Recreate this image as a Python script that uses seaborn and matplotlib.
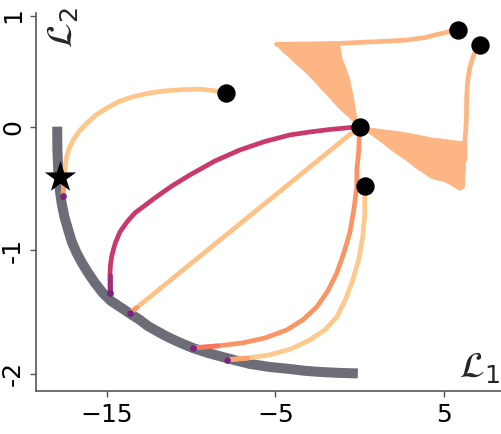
import numpy as np
import pandas as pd
import matplotlib
matplotlib.use("Agg")
import matplotlib.pyplot as plt
import seaborn as sns

# ---------------- data ----------------
front_x = [-17.95, -17.94, -17.89, -17.82, -17.69, -17.52, -17.30, -17.08, -16.80, -16.48,
           -16.11, -15.71, -15.24, -14.76, -14.13, -13.64, -13.04, -12.57, -12.05, -11.56,
           -11.08, -10.49, -9.90, -9.01, -8.12, -7.34, -6.51, -5.33, -4.14, -3.25,
           -2.36, -1.17, -0.10]
front_y = [0.0, -0.189, -0.351, -0.488, -0.618, -0.731, -0.836, -0.934, -1.022, -1.103,
           -1.185, -1.265, -1.347, -1.411, -1.468, -1.513, -1.565, -1.614, -1.654, -1.691,
           -1.723, -1.759, -1.792, -1.832, -1.865, -1.893, -1.921, -1.946, -1.962, -1.977,
           -1.986, -1.994, -1.998]

# trajectory starting at (-7.94, 0.275)
t1_x = [-7.94, -8.71, -9.48, -10.49, -11.46, -12.45, -13.44, -14.29, -15.02, -15.65,
        -16.20, -16.66, -17.00, -17.23, -17.39, -17.46, -17.49, -17.55, -17.61]
t1_y = [0.275, 0.293, 0.303, 0.300, 0.291, 0.273, 0.243, 0.204, 0.149, 0.095,
        0.028, -0.039, -0.108, -0.172, -0.243, -0.310, -0.375, -0.472, -0.561]

# magenta trajectory from the centre point
t2_x = [0.0, -1.77, -2.95, -4.14, -5.62, -7.11, -8.59, -10.07, -11.14, -12.15,
        -12.74, -13.34, -13.81, -14.23, -14.50, -14.70, -14.79, -14.82, -14.82]
t2_y = [0.0, -0.023, -0.043, -0.067, -0.120, -0.189, -0.278, -0.391, -0.480, -0.577,
        -0.638, -0.699, -0.772, -0.853, -0.942, -1.039, -1.120, -1.201, -1.347]

# straight trajectory from the centre point
t3_x = [0.0, -13.22, -13.63]
t3_y = [0.0, -1.464, -1.508]

# salmon trajectory from the centre point
t4_x = [0.0, -0.04, -0.16, -0.16, -0.34, -0.58, -0.93, -1.35, -1.88, -2.54,
        -3.37, -4.32, -5.62, -6.93, -8.41, -9.90]
t4_y = [0.0, -0.189, -0.351, -0.488, -0.674, -0.861, -1.022, -1.185, -1.330, -1.460,
        -1.565, -1.646, -1.711, -1.751, -1.775, -1.792]

# trajectory starting at (0.31, -0.478)
t5_x = [0.31, 0.31, 0.31, 0.19, -0.04, -0.40, -0.82, -1.35, -2.06, -2.95,
        -4.08, -5.33, -6.63, -7.88]
t5_y = [-0.478, -0.537, -0.715, -0.893, -1.071, -1.241, -1.395, -1.541, -1.646, -1.727,
        -1.800, -1.848, -1.873, -1.889]

# trajectory starting at (5.85, 0.783) towards the upper band
t6_x = [5.85, 5.47, 4.76, 3.87, 2.86, 1.90, 0.61, -1.07, -2.95, -4.93]
t6_y = [0.783, 0.775, 0.751, 0.721, 0.702, 0.694, 0.686, 0.675, 0.670, 0.667]

# trajectory starting at (7.14, 0.662) towards the right band
t7_x = [7.14, 7.02, 6.84, 6.72, 6.54, 6.42, 6.36, 6.35, 6.31, 6.25, 6.25]
t7_y = [0.662, 0.637, 0.597, 0.556, 0.475, 0.364, 0.232, 0.095, -0.027, -0.121, -0.270]

# oscillation regions (outline of the scattered bands)
w1_x = [-4.93, -3.00, -1.17, -1.05, -0.82, -0.58, -0.46, -0.34, -0.22, -0.10, 0.0,
        -0.34, -0.70, -1.11, -1.52, -1.88, -2.24, -2.60, -2.95, -3.31, -3.72, -4.14, -4.58]
w1_y = [0.662, 0.664, 0.662, 0.557, 0.476, 0.380, 0.299, 0.219, 0.117, 0.016, 0.0,
        0.037, 0.086, 0.134, 0.194, 0.251, 0.300, 0.356, 0.405, 0.454, 0.502, 0.559, 0.607]
w2_x = [0.0, 1.10, 2.27, 3.27, 4.27, 5.15, 6.05, 6.30, 6.30, 6.22, 5.95, 5.50, 5.06,
        4.62, 4.27, 3.68, 3.30, 2.89, 2.30, 1.90, 1.51, 1.10, 0.72, 0.30]
w2_y = [0.0, -0.020, -0.040, -0.062, -0.091, -0.105, -0.121, -0.121, -0.300, -0.496, -0.515,
        -0.478, -0.445, -0.432, -0.418, -0.364, -0.330, -0.283, -0.229, -0.190, -0.148,
        -0.105, -0.067, -0.030]

start_x = [5.85, 7.14, 0.0, 0.31, -7.94]
start_y = [0.783, 0.662, 0.0, -0.478, 0.275]

end_x = [-17.61, -14.82, -13.63, -9.90, -7.88]
end_y = [-0.561, -1.347, -1.508, -1.792, -1.889]

star_x = [-17.79]
star_y = [-0.405]

xticks = [-15, -5, 5]
yticks = [-2, -1, 0, 0.9]
ytick_labels = ['-2', '-1', '0', '1']

# ---------------- plotting ----------------
sns.set_theme(style="ticks")
plt.rcParams['font.family'] = ['DejaVu Sans']

fig = plt.figure(figsize=(5.02, 4.34), dpi=100)
ax = fig.add_axes([36 / 502, 1 - 390.7 / 434, (502 - 36) / 502, (390.7 - 13.3) / 434])

c_front = "#6c6d76"
c_band = "#fdb683"
c_mag = "#c9396d"
c_salmon = "#fb9464"
c_purple = "#7a2482"

sns.lineplot(x=front_x, y=front_y, sort=False, estimator=None, color=c_front,
             lw=7.2, ax=ax, solid_capstyle='butt', zorder=1)

ax.fill(w1_x, w1_y, color=c_band, lw=0.6, zorder=2)
ax.fill(w2_x, w2_y, color=c_band, lw=0.6, zorder=2)

trajs = [(t1_x, t1_y, "#fec68b", "#fd9f6b"),
         (t2_x, t2_y, c_mag, "#a02c7b"),
         (t3_x, t3_y, "#fec287", "#fd9a68"),
         (t4_x, t4_y, c_salmon, "#f6765d"),
         (t5_x, t5_y, "#fec98d", "#fda26d"),
         (t6_x, t6_y, c_band, None),
         (t7_x, t7_y, c_band, None)]
for tx, ty, col, end_col in trajs:
    sns.lineplot(x=tx, y=ty, sort=False, estimator=None, color=col, lw=3.4,
                 ax=ax, solid_capstyle='round', solid_joinstyle='round', zorder=3)
    if end_col is not None:
        sns.lineplot(x=tx[-2:], y=ty[-2:], sort=False, estimator=None, color=end_col,
                     lw=3.4, ax=ax, solid_capstyle='round', zorder=3.1)

sns.scatterplot(x=end_x, y=end_y, color=c_purple, s=24, linewidth=0, ax=ax, zorder=4)
sns.scatterplot(x=start_x, y=start_y, color="black", s=175, linewidth=0, ax=ax, zorder=5)
sns.scatterplot(x=star_x, y=star_y, color="black", marker="*", s=560, linewidth=0,
                ax=ax, zorder=6)

ax.set_xlim(-19.21, 8.46)
ax.set_ylim(-2.138, 0.918)
ax.set_xticks(xticks)
ax.set_yticks(yticks)
ax.set_yticklabels(ytick_labels, rotation=90, va='center')
ax.tick_params(axis='both', labelsize=18, length=4, width=1, color="#555555",
               labelcolor="black", direction='out', pad=5)
ax.tick_params(axis='y', pad=4)
for side in ['top', 'right']:
    ax.spines[side].set_visible(False)
for side in ['left', 'bottom']:
    ax.spines[side].set_color("#555555")
    ax.spines[side].set_linewidth(1.2)
ax.set_xlabel("")
ax.set_ylabel("")

ax.text(5.9, -2.03, r'$\mathcal{L}_1$', fontsize=26, ha='left', va='baseline')
ax.text(-17.64, 0.807, r'$\mathcal{L}_2$', fontsize=26, rotation=90,
        ha='center', va='center', clip_on=False)

fig.savefig("out.png", dpi=100)
